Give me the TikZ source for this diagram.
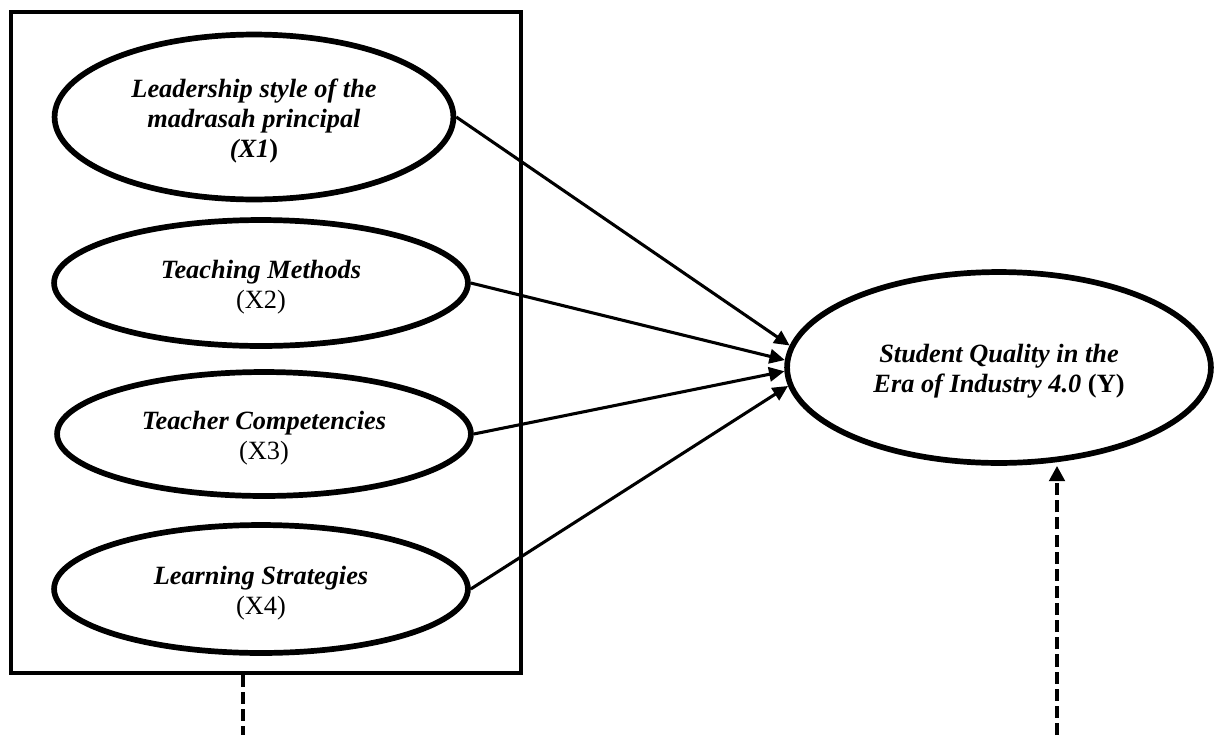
\documentclass[tikz,border=0pt]{standalone}
\usepackage{fontspec}
\setmainfont{Liberation Serif}
\usetikzlibrary{arrows.meta,shapes.geometric}

\begin{document}
\begin{tikzpicture}[x=0.016cm, y=-0.016cm,
  every node/.style={font=\fontsize{12}{13.8}\selectfont\bfseries\itshape, align=center},
  var/.style={draw, ellipse, line width=2.6pt, inner sep=0pt},
  link/.style={line width=1.4pt, -{Triangle[length=7pt,width=6.5pt]}},
  hint/.style={line width=2pt, dash pattern=on 5.5pt off 2.3pt}]
  % Fix the page size
  \useasboundingbox (0,0) rectangle (1215,735);

  % Draw the box round the independent variables
  \node[draw, line width=2pt, minimum width=8.16cm, minimum height=10.576cm] (box) at (266,342.5) {};

  % Draw the variables
  \node[var, minimum width=6.384cm, minimum height=2.64cm] (x1) at (254,117)
    {\rule{0pt}{12pt}Leadership style of the\\ madrasah principal\\ (X1\textup{)}};
  \node[var, minimum width=6.624cm, minimum height=2.016cm] (x2) at (261,283)
    {\rule{0pt}{12pt}Teaching Methods\\ \textup{\mdseries (X2)}};
  \node[var, minimum width=6.624cm, minimum height=1.984cm] (x3) at (264,434)
    {\rule{0pt}{12pt}Teacher Competencies\\ \textup{\mdseries (X3)}};
  \node[var, minimum width=6.624cm, minimum height=2.048cm] (x4) at (261,589)
    {\rule{0pt}{12pt}Learning Strategies\\ \textup{\mdseries (X4)}};
  \node[var, minimum width=6.784cm, minimum height=3.056cm] (y) at (999,367.5)
    {\rule{0pt}{12pt}Student Quality in the\\ Era of Industry 4.0 \textup{(Y)}};

  % Draw the paths to Y
  \foreach \v/\a in {x1/174, x2/178.5, x3/181.5, x4/185.5}
    \draw[link] (\v.east) -- (y.\a);

  % Dashed links leaving the picture
  \coordinate (outL) at (243,735);
  \coordinate (outR) at (1057,735);
  \draw[hint] (box.south -| outL) -- (outL);
  \draw[hint, -{Triangle[length=7pt,width=7pt]}] (outR) -- (outR |- y.south);

\end{tikzpicture}
\end{document}
